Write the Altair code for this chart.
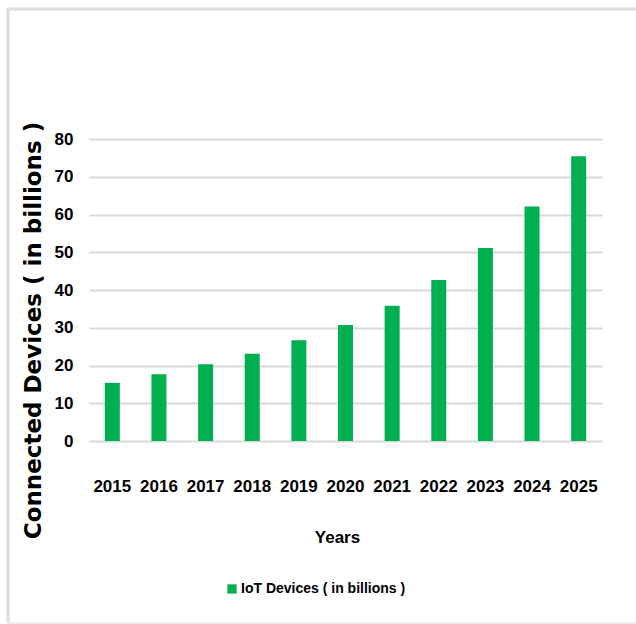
import altair as alt
import pandas as pd

years = ["2015", "2016", "2017", "2018", "2019", "2020", "2021", "2022", "2023", "2024", "2025"]
devices = [15.41, 17.68, 20.35, 23.14, 26.66, 30.73, 35.82, 42.62, 51.11, 62.12, 75.44]
series_name = "IoT Devices ( in billions )"
y_ticks = [0, 10, 20, 30, 40, 50, 60, 70, 80]

df = pd.DataFrame({"Year": years, "Value": devices, "Series": [series_name] * len(years)})

LBL = "Liberation Sans, Arial, sans-serif"

bars = alt.Chart(df).mark_bar(size=15).encode(
    x=alt.X("Year:N", sort=years,
            scale=alt.Scale(paddingInner=0.68, paddingOuter=0.34),
            axis=alt.Axis(title="Years", labelAngle=0, ticks=False, domain=False,
                          labelFont=LBL, labelFontSize=17, labelFontWeight="bold",
                          labelColor="#000000", labelPadding=37,
                          titleFont=LBL, titleFontSize=17, titleFontWeight="bold",
                          titleColor="#000000", titleX=248, titleY=96,
                          titleBaseline="middle", titleAlign="center")),
    y=alt.Y("Value:Q", scale=alt.Scale(domain=[0, 80], nice=False),
            axis=alt.Axis(title="Connected Devices ( in billions )", values=y_ticks,
                          ticks=False, domain=False, grid=True,
                          gridColor="#d9d9d9", gridWidth=2,
                          labelFont=LBL, labelFontSize=17, labelFontWeight="bold",
                          labelColor="#000000", labelPadding=16,
                          titleFont="DejaVu Sans", titleFontSize=23, titleFontWeight="bold",
                          titleColor="#000000", titleAngle=-90, titleX=-56, titleY=191,
                          titleAlign="center", titleBaseline="middle", titleLimit=600)),
    color=alt.Color("Series:N", scale=alt.Scale(range=["#00B050"]),
                    legend=alt.Legend(title=None, orient="none", legendX=136, legendY=443,
                                      symbolType="square", symbolSize=85,
                                      symbolStrokeWidth=0,
                                      labelFont=LBL, labelFontSize=14,
                                      labelFontWeight="bold", labelColor="#000000",
                                      labelOffset=2, labelLimit=400)),
)

frame_df = pd.DataFrame({"k": [0]})
frame_color = "#dedede"
top_border = alt.Chart(frame_df).mark_rule(color=frame_color, strokeWidth=3).encode(
    x=alt.value(-82), x2=alt.value(560), y=alt.value(-130))
left_border = alt.Chart(frame_df).mark_rule(color=frame_color, strokeWidth=3).encode(
    x=alt.value(-81), y=alt.value(-130), y2=alt.value(484))
bottom_border = alt.Chart(frame_df).mark_rule(color="#eeeeee", strokeWidth=2).encode(
    x=alt.value(-82), x2=alt.value(560), y=alt.value(484))

chart = alt.layer(top_border, left_border, bottom_border, bars).properties(
    width=513, height=302,
    autosize=alt.AutoSizeParams(type="none"),
    padding={"left": 89, "top": 139, "right": 34, "bottom": 183},
    background="#ffffff",
).configure_view(stroke=None)

chart.save("out.html", embed_options={"renderer": "svg", "actions": False})
